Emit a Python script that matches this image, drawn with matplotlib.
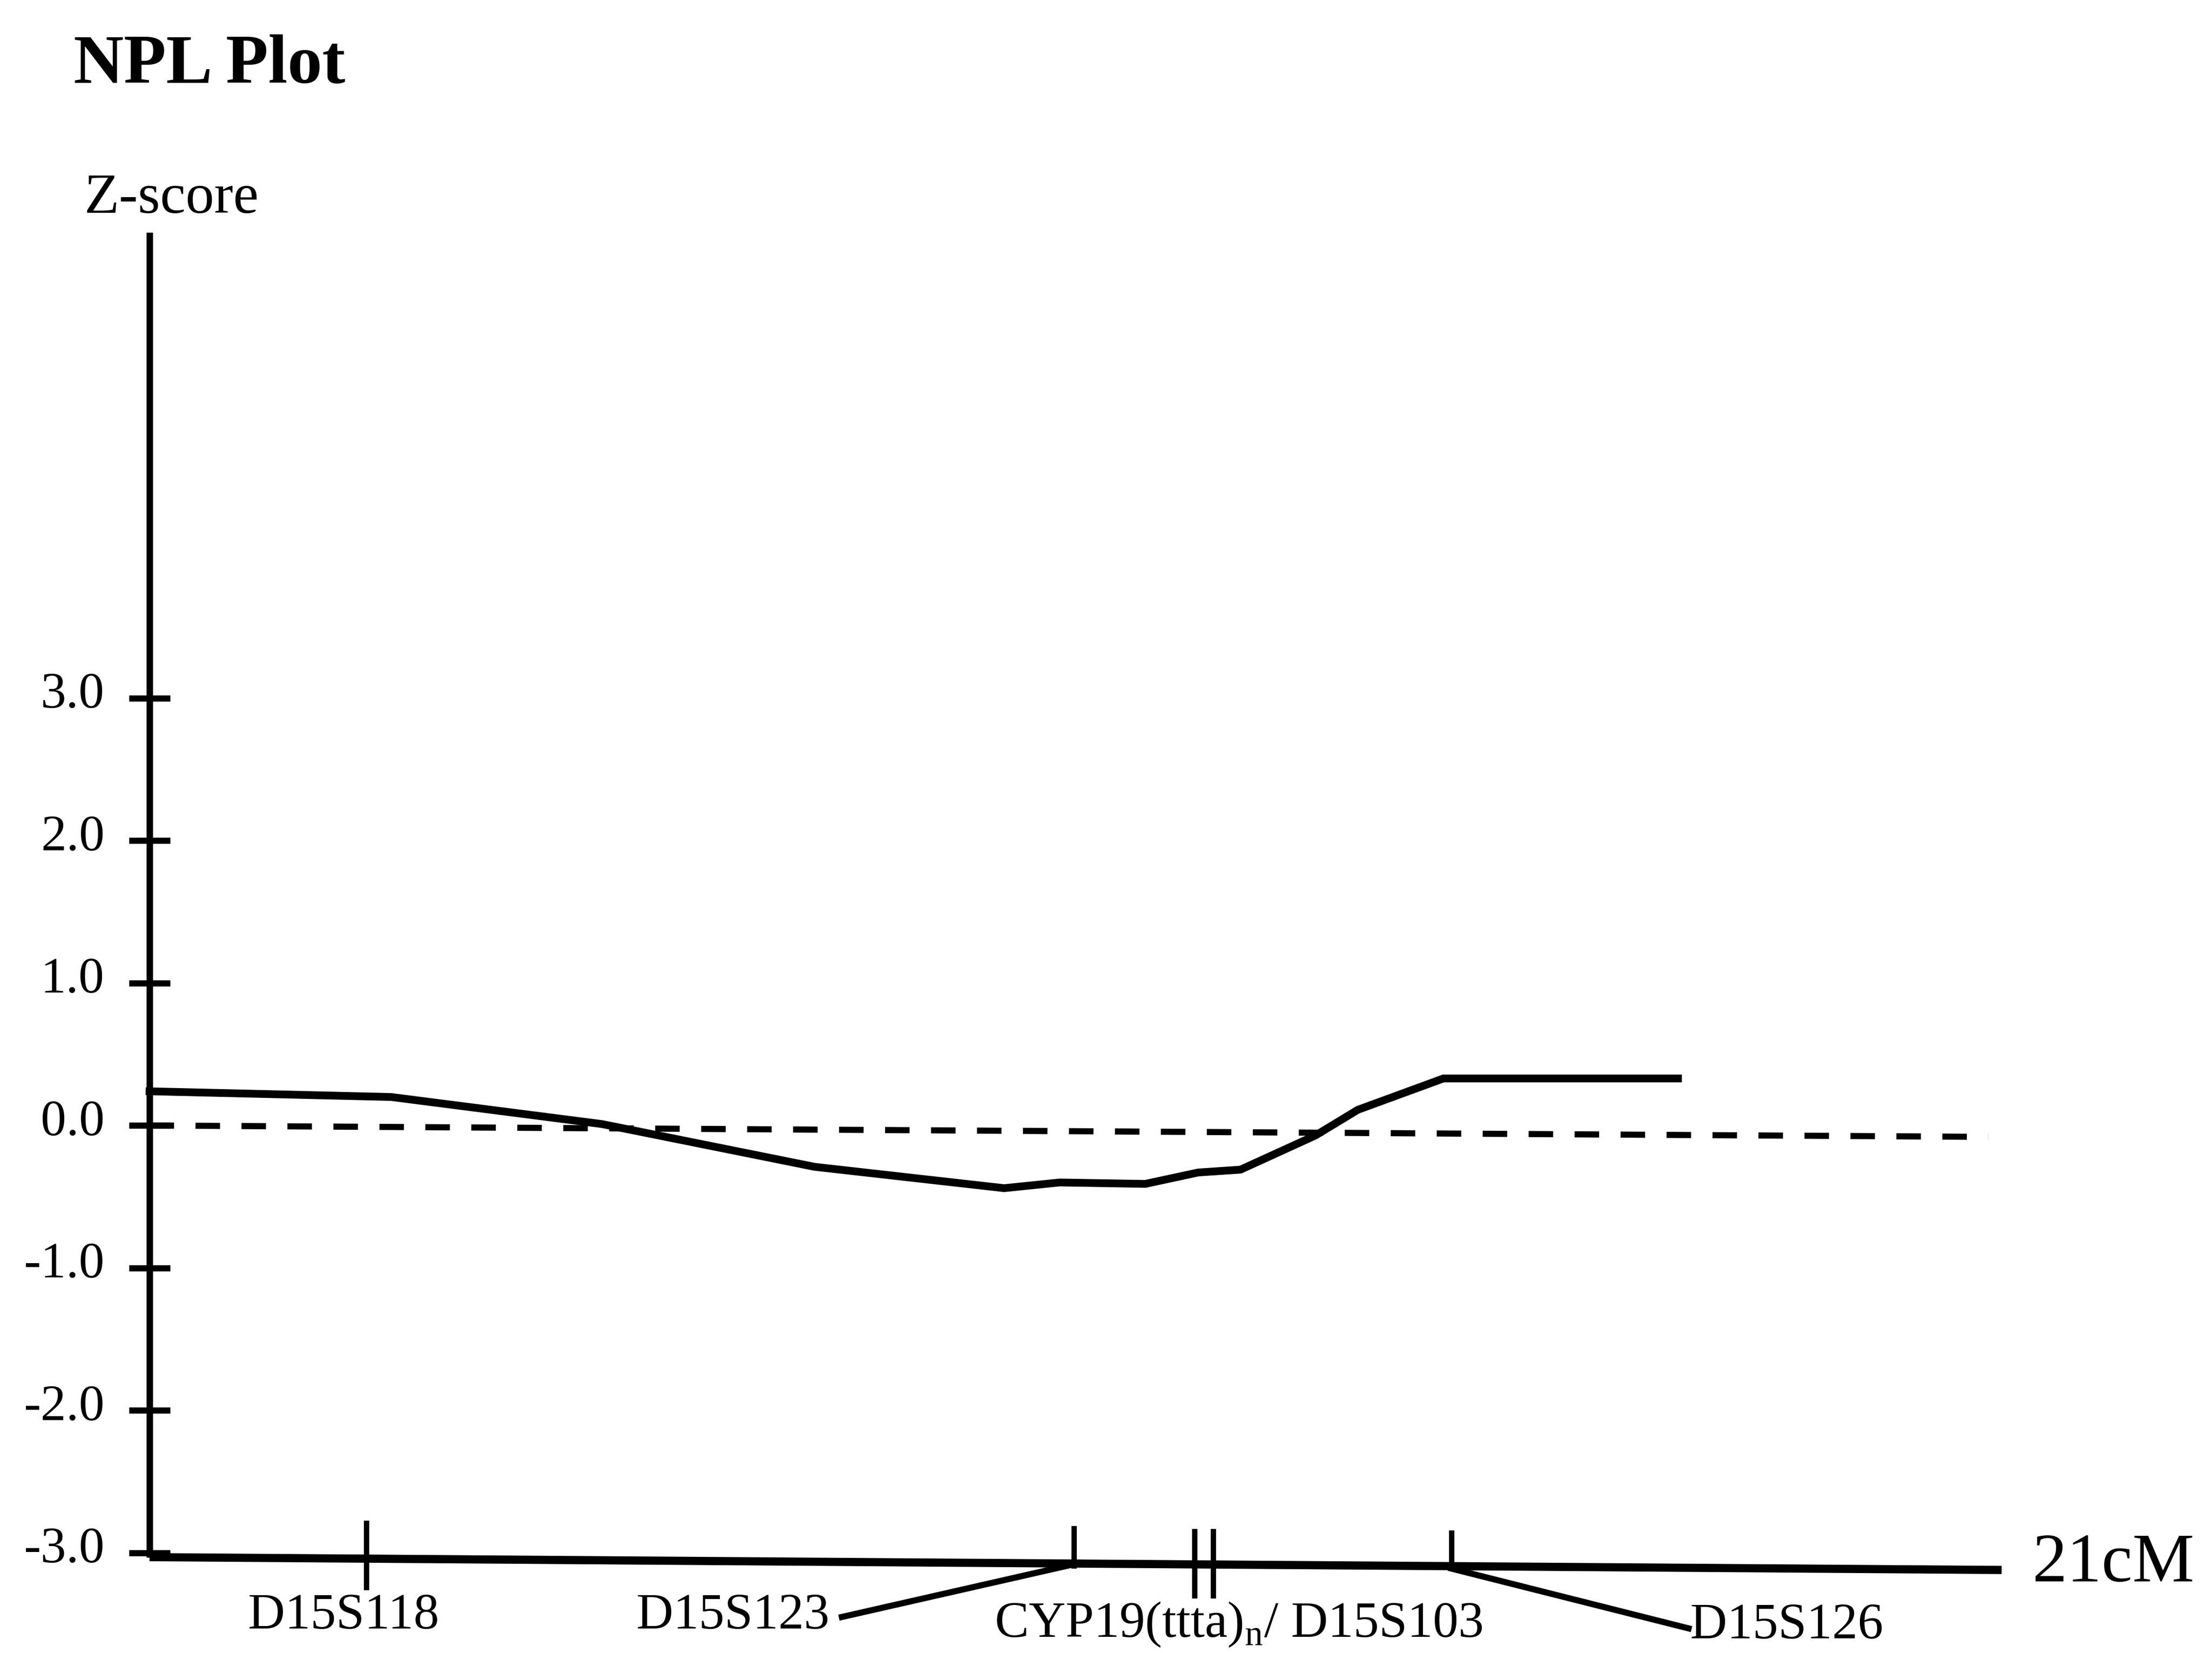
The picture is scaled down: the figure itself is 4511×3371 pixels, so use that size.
import matplotlib
matplotlib.use("Agg")
import matplotlib.pyplot as plt
import matplotlib.transforms as mtransforms

# NPL curve (position in cM, Z-score)
pos_cm = [0.0, 2.74, 5.13, 7.54, 9.69, 10.32, 11.29, 11.89, 12.37, 13.22, 13.70, 14.67, 17.33]
z_score = [0.24, 0.20, 0.01, -0.29, -0.44, -0.40, -0.41, -0.33, -0.31, -0.07, 0.11, 0.33, 0.33]

# zero reference line (scan is a little rotated)
zero_x = [0.0, 20.85]
zero_y = [0.0, -0.08]

# marker positions along the 21 cM map
marker_pos = [2.46, 10.48, 11.85, 12.06, 14.76]
marker_labels = ["D15S118", "D15S123", "CYP19(ttta)$_{\\mathrm{n}}$/ D15S103", "D15S126"]

ytick_vals = [3.0, 2.0, 1.0, 0.0, -1.0, -2.0, -3.0]
ytick_labels = ["3.0", "2.0", "1.0", "0.0", "-1.0", "-2.0", "-3.0"]
map_length = 21

plt.rcParams["font.family"] = ["Liberation Serif", "DejaVu Serif"]
plt.rcParams["mathtext.fontset"] = "custom"
plt.rcParams["mathtext.rm"] = "Liberation Serif"

fig = plt.figure(figsize=(4511 / 300, 3371 / 300), dpi=300)
ax = fig.add_axes([0.0676, 0.0261, 0.8373, 0.8334])
ax.set_xlim(0, map_length)
ax.set_ylim(-3.4, 6.27)
for s in ax.spines.values():
    s.set_visible(False)
ax.patch.set_visible(False)

# axes drawn by hand
ax.plot([0, 0], [-3.03, 6.27], color="k", lw=3.2, clip_on=False, solid_capstyle="butt")
ax.plot([0, map_length], [-3.03, -3.12], color="k", lw=4, clip_on=False, solid_capstyle="butt")

ax.set_xticks([])
ax.set_yticks(ytick_vals)
ax.set_yticklabels(ytick_labels)
ax.tick_params(axis="y", direction="inout", length=20, width=3, pad=12, labelsize=25)
offset = mtransforms.ScaledTranslation(0, 4 / 72, fig.dpi_scale_trans)
for lab in ax.get_yticklabels():
    lab.set_transform(lab.get_transform() + offset)

# data
ax.plot(zero_x, zero_y, color="k", lw=3, dashes=(4, 3.5), clip_on=False)
ax.plot(pos_cm, z_score, color="k", lw=3.8, solid_joinstyle="miter", clip_on=False)

# marker ticks on the map axis
tick_top = [-2.79, -2.83, -2.85, -2.85, -2.86]
tick_bot = [-3.24, -3.09, -3.30, -3.30, -3.10]
for p, t, b in zip(marker_pos, tick_top, tick_bot):
    ax.plot([p, p], [t, b], color="k", lw=2.6, clip_on=False)

# leader lines to labels
ax.plot([marker_pos[1], 7.85], [-3.08, -3.45], color="k", lw=3, clip_on=False)
ax.plot([marker_pos[4], 17.45], [-3.11, -3.53], color="k", lw=3, clip_on=False)

label_x = [1.12, 5.52, 9.58, 17.47]
label_y = [-3.53, -3.53, -3.59, -3.60]
for name, x, y in zip(marker_labels, label_x, label_y):
    ax.text(x, y, name, fontsize=25, ha="left", va="baseline", clip_on=False)

ax.text(21.35, -3.20, f"{map_length}cM", fontsize=34, ha="left", va="baseline", clip_on=False)

fig.text(0.0333, 0.950, "NPL Plot", fontsize=34, fontweight="bold", ha="left", va="baseline")
fig.text(0.0381, 0.8713, "Z-score", fontsize=28, ha="left", va="baseline")

fig.savefig("out.png", dpi=300)
